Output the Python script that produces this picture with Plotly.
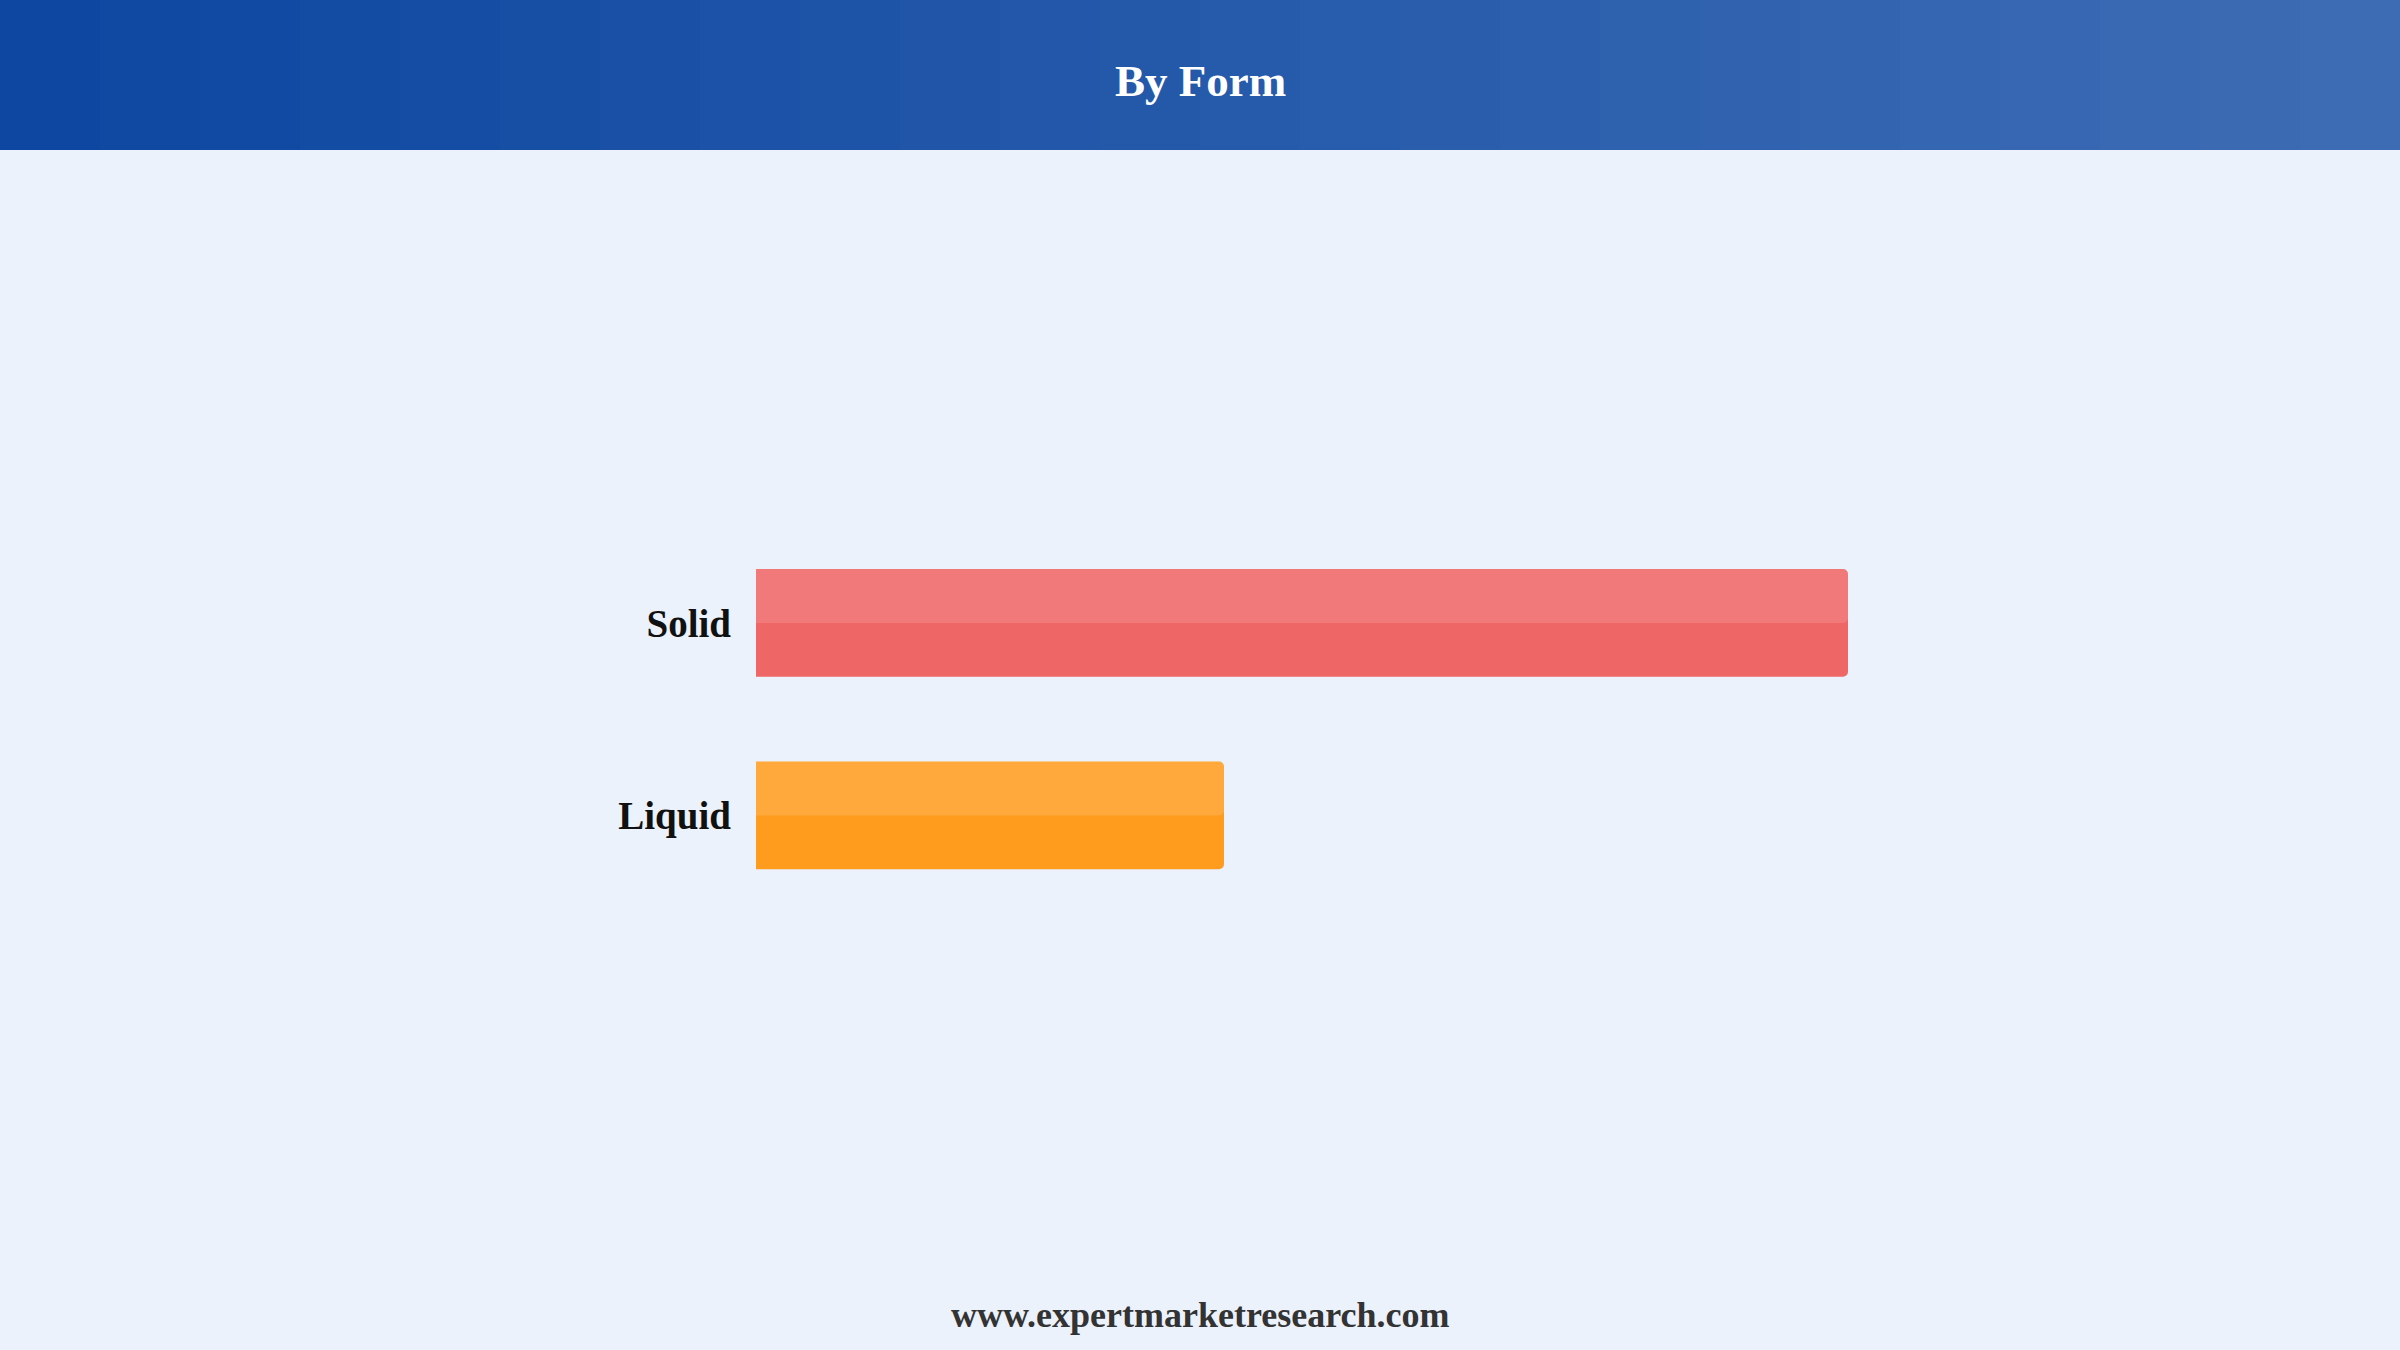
import plotly.graph_objects as go

# data
forms = ['Liquid', 'Solid']
shares = [30, 70]
bar_colors = ['#FF9C1E', '#EF6666']

title_text = 'By Form'
footer_text = 'www.expertmarketresearch.com'

W, H = 2400, 1350
bg = '#EBF2FC'
bar_w = 0.56

fig = go.Figure()

# main bars
fig.add_trace(go.Bar(
    y=forms, x=shares, orientation='h',
    width=bar_w,
    marker=dict(color=bar_colors, line=dict(width=0), cornerradius=5),
    hoverinfo='x+y', showlegend=False
))

# lighter upper half highlight
fig.add_trace(go.Bar(
    y=forms, x=shares, orientation='h',
    width=bar_w / 2, offset=0,
    marker=dict(color='rgba(255,255,255,0.13)', line=dict(width=0), cornerradius=5),
    hoverinfo='skip', showlegend=False
))

# header band gradient, drawn as thin strips
left = (13, 71, 161)
right = (61, 108, 180)
n = 24
shapes = []
for i in range(n):
    t = i / (n - 1)
    c = tuple(round(left[k] + (right[k] - left[k]) * t) for k in range(3))
    shapes.append(dict(
        type='rect', xref='paper', yref='paper',
        x0=i / n, x1=(i + 1) / n + 0.001,
        y0=1 - 150 / H, y1=1,
        fillcolor='rgb(%d,%d,%d)' % c, line=dict(width=0), layer='below'
    ))

fig.update_layout(
    width=W, height=H,
    margin=dict(l=0, r=0, t=0, b=0),
    paper_bgcolor=bg, plot_bgcolor=bg,
    barmode='overlay',
    shapes=shapes,
    xaxis=dict(
        domain=[756 / W, 2316 / W], range=[0, 100],
        visible=False, fixedrange=True
    ),
    yaxis=dict(
        domain=[0, 1], range=[-2.777, 4.236],
        showgrid=False, zeroline=False, showline=False,
        ticks='', ticklabelstandoff=24,
        tickfont=dict(family='Liberation Serif, Times New Roman, serif',
                      size=39, color='#111111', weight='bold'),
        fixedrange=True
    ),
    annotations=[
        dict(text=title_text, xref='paper', yref='paper',
             x=0.5, y=1 - 81 / H, xanchor='center', yanchor='middle',
             showarrow=False,
             font=dict(family='Liberation Serif, Times New Roman, serif',
                       size=45, color='white', weight='bold')),
        dict(text=footer_text, xref='paper', yref='paper',
             x=0.5, y=1 - 1315 / H, xanchor='center', yanchor='middle',
             showarrow=False,
             font=dict(family='Liberation Serif, Times New Roman, serif',
                       size=36, color='#333333', weight='bold')),
    ]
)

# drop the browser's default page margin so the figure fills the window
fig.write_html('out.html', config={'displayModeBar': False},
               post_script="document.body.style.margin='0';")
